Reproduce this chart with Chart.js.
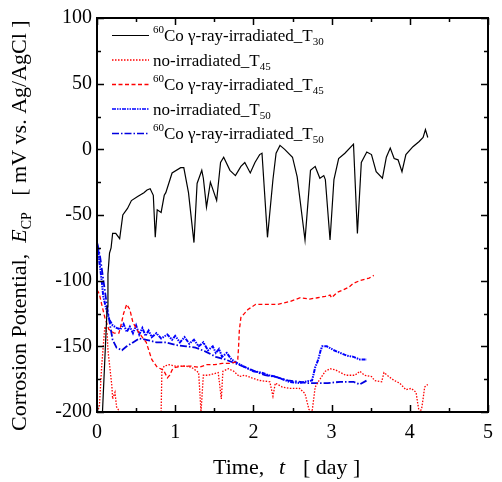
<!DOCTYPE html>
<html>
<head>
<meta charset="utf-8">
<script src="https://cdn.jsdelivr.net/npm/chart.js@4/dist/chart.umd.min.js"></script>
<style>
  html, body { margin: 0; padding: 0; background: #fff; }
  #wrap { width: 502px; height: 482px; }
</style>
</head>
<body>
<div id="wrap"><canvas id="ecpChart" width="502" height="482"></canvas></div>
<script>
'use strict';

// axis ticks
const xTicks = [0, 1, 2, 3, 4, 5];
const yTicks = [-200, -150, -100, -50, 0, 50, 100];

// 60Co irradiated, T30 (black solid)
const irrT30Days = [0.07,0.10,0.13,0.14,0.16,0.18,0.20,0.24,0.29,0.33,0.39,0.44,0.52,0.60,0.64,0.68,0.72,0.745,0.77,0.82,0.86,0.88,0.96,1.07,1.11,1.17,1.24,1.28,1.34,1.36,1.40,1.45,1.53,1.58,1.62,1.70,1.77,1.81,1.84,1.89,1.96,2.02,2.08,2.11,2.18,2.25,2.29,2.34,2.40,2.50,2.56,2.66,2.73,2.79,2.85,2.90,2.92,2.98,3.03,3.09,3.17,3.28,3.33,3.38,3.45,3.51,3.57,3.65,3.70,3.75,3.80,3.85,3.90,3.95,4.04,4.12,4.17,4.20,4.23];
const irrT30Mv = [-200,-160,-120,-95,-79,-75,-64,-64,-68,-50,-45,-39,-36,-33,-31,-30,-35,-67,-46,-48,-35,-33,-18,-14,-14,-33,-71,-26,-16,-22,-44,-25,-39,-10,-6,-16,-20,-16,-13,-10,-18,-10,-4,-3,-67,-23,-3,3,0,-6,-21,-69,-16,-13,-22,-20,-23,-69,-23,-7,-3,4,-64,-10,-2,-4,-17,-22,-6,1,-7,-8,-17,-4,2,6,9,15,9];

// no-irradiated, T45 (red dotted)
const noT45Days = [0.00,0.03,0.06,0.10,0.13,0.14,0.19,0.20,0.23,0.25,0.29,0.30,0.82,0.83,0.86,0.92,1.00,1.13,1.21,1.30,1.33,1.36,1.42,1.55,1.59,1.61,1.68,1.75,1.82,1.89,1.98,2.08,2.21,2.25,2.28,2.37,2.46,2.59,2.66,2.71,2.75,2.79,2.84,2.92,2.98,3.05,3.18,3.30,3.36,3.42,3.51,3.55,3.64,3.67,3.73,3.80,3.87,3.95,4.02,4.08,4.10,4.12,4.15,4.17,4.19,4.23];
const noT45Mv = [-200,-196,-165,-135,-140,-153,-180,-190,-185,-196,-200,null,-200,-168,-165,-164,-165,-165,-166,-170,-200,-172,-172,-170,-190,-169,-167,-169,-173,-172,-174,-176,-177,-188,-178,-181,-182,-182,-186,-198,-200,-181,-176,-169,-167,-168,-172,-172,-169,-172,-173,-176,-177,-170,-173,-176,-178,-183,-182,-185,-193,-200,-198,-190,-181,-179];

// 60Co irradiated, T45 (red dashed)
const irrT45Days = [0.00,0.03,0.06,0.10,0.15,0.22,0.28,0.31,0.34,0.38,0.42,0.46,0.54,0.63,0.70,0.77,0.85,0.90,0.93,0.96,1.00,1.10,1.20,1.30,1.40,1.50,1.60,1.70,1.77,1.80,1.81,1.82,1.84,1.93,2.03,2.15,2.31,2.46,2.60,2.72,2.82,2.92,2.98,3.00,3.07,3.15,3.22,3.28,3.36,3.42,3.48,3.54];
const irrT45Mv = [-107,-110,-118,-128,-137,-140,-140,-133,-125,-118,-122,-132,-140,-147,-160,-166,-168,-174,-172,-168,-166,-165,-165,-166,-164,-164,-163,-163,-162,-160,-151,-138,-128,-122,-118,-118,-118,-116,-113,-114,-113,-112,-111,-113,-109,-107,-105,-102,-100,-99,-98,-96];

// no-irradiated, T50 (blue dash-dot-dot)
const noT50Days = [0.00,0.01,0.03,0.06,0.08,0.12,0.16,0.20,0.25,0.30,0.34,0.38,0.42,0.46,0.50,0.54,0.58,0.62,0.66,0.70,0.76,0.82,0.90,0.96,1.00,1.06,1.12,1.18,1.24,1.30,1.36,1.42,1.48,1.52,1.56,1.60,1.66,1.72,1.80,1.90,2.00,2.10,2.20,2.28,2.46,2.59,2.66,2.75,2.79,2.83,2.86,2.88,2.94,3.03,3.11,3.19,3.28,3.36,3.45];
const noT50Mv = [-80,-75,-85,-100,-112,-122,-130,-134,-136,-137,-133,-139,-135,-140,-134,-141,-136,-142,-138,-143,-140,-144,-141,-145,-142,-147,-143,-148,-145,-150,-147,-153,-150,-155,-152,-158,-155,-160,-163,-166,-169,-170,-172,-173,-177,-178,-177,-176,-166,-160,-153,-150,-150,-153,-155,-157,-158,-160,-160];

// 60Co irradiated, T50 (blue dash-dot)
const irrT50Days = [0.00,0.02,0.04,0.08,0.13,0.17,0.20,0.25,0.32,0.38,0.46,0.54,0.63,0.76,0.88,1.01,1.14,1.26,1.39,1.52,1.64,1.77,1.90,2.02,2.15,2.27,2.44,2.60,2.69,2.80,2.95,3.11,3.28,3.36,3.45];
const irrT50Mv = [-90,-76,-82,-99,-120,-135,-145,-151,-153,-150,-147,-144,-145,-147,-147,-149,-150,-151,-154,-158,-160,-163,-166,-169,-172,-173,-176,-177,-178,-178,-178,-177,-177,-179,-176];

// legend labels: [superscript, main text, subscript]
const seriesLabels = [
    ['60', 'Co \u03b3-ray-irradiated_T', '30'],
    ['', 'no-irradiated_T', '45'],
    ['60', 'Co \u03b3-ray-irradiated_T', '45'],
    ['', 'no-irradiated_T', '50'],
    ['60', 'Co \u03b3-ray-irradiated_T', '50']
];

const SERIF = '"Liberation Serif", "Times New Roman", serif';

function toPoints(days, mv) {
    return days.map((d, i) => ({ x: d, y: mv[i] }));
}

function makeSet(label, days, mv, color, dash, width) {
    return {
        label: label,
        data: toPoints(days, mv),
        borderColor: color,
        borderDash: dash,
        borderWidth: width,
        pointRadius: 0,
        tension: 0,
        fill: false,
        spanGaps: false
    };
}

const datasets = [
    makeSet(seriesLabels[0].join(''), irrT30Days, irrT30Mv, '#000000', [], 1.2),
    makeSet(seriesLabels[1].join(''), noT45Days, noT45Mv, '#ff0000', [1.5, 1.5], 1.3),
    makeSet(seriesLabels[2].join(''), irrT45Days, irrT45Mv, '#ff0000', [4, 2.5], 1.3),
    makeSet(seriesLabels[3].join(''), noT50Days, noT50Mv, '#0000ff', [4, 1, 1.5, 1, 1.5, 1], 2),
    makeSet(seriesLabels[4].join(''), irrT50Days, irrT50Mv, '#0000e0', [7, 2, 1.5, 2], 1.8)
];

// frame, inward ticks, axis titles and legend
const decorPlugin = {
    id: 'decor',
    afterDraw(chart) {
        const ctx = chart.ctx;
        const area = chart.chartArea;
        const xs = chart.scales.x;
        const ys = chart.scales.y;
        ctx.save();
        ctx.strokeStyle = '#000';
        ctx.lineWidth = 2;
        ctx.strokeRect(area.left, area.top, area.right - area.left, area.bottom - area.top);

        ctx.lineWidth = 1.5;
        ctx.beginPath();
        for (let v = 0; v <= 5.001; v += 0.5) {
            const p = Math.round(xs.getPixelForValue(v)) + 0.5;
            const len = (Math.abs(v - Math.round(v)) < 0.01) ? 7 : 4;
            ctx.moveTo(p, area.bottom); ctx.lineTo(p, area.bottom - len);
            ctx.moveTo(p, area.top); ctx.lineTo(p, area.top + len);
        }
        for (let v = -200; v <= 100; v += 25) {
            const p = Math.round(ys.getPixelForValue(v)) + 0.5;
            const len = (v % 50 === 0) ? 7 : 4;
            ctx.moveTo(area.left, p); ctx.lineTo(area.left + len, p);
            ctx.moveTo(area.right, p); ctx.lineTo(area.right - len, p);
        }
        ctx.stroke();

        // x axis title
        ctx.fillStyle = '#000';
        ctx.textBaseline = 'alphabetic';
        ctx.textAlign = 'left';
        ctx.font = '22px ' + SERIF;
        ctx.fillText('Time,', 213, 474);
        ctx.font = 'italic 22px ' + SERIF;
        ctx.fillText('t', 279, 474);
        ctx.font = '22px ' + SERIF;
        ctx.fillText('[ day ]', 303, 474);

        // y axis title (rotated)
        ctx.save();
        ctx.translate(26, 431);
        ctx.rotate(-Math.PI / 2);
        let x = 0;
        ctx.font = '22px ' + SERIF;
        const part1 = 'Corrosion Potential,  ';
        ctx.fillText(part1, x, 0);
        x += ctx.measureText(part1).width;
        ctx.font = 'italic 22px ' + SERIF;
        ctx.fillText('E', x, 0);
        x += ctx.measureText('E').width;
        ctx.font = '14px ' + SERIF;
        ctx.fillText('CP', x, 5);
        x += ctx.measureText('CP').width;
        ctx.font = '22px ' + SERIF;
        ctx.fillText('   [ mV vs. Ag/AgCl ]', x, 0);
        ctx.restore();

        // legend
        chart.data.datasets.forEach((ds, i) => {
            const y = 35 + i * 24.5;
            ctx.save();
            ctx.strokeStyle = ds.borderColor;
            ctx.lineWidth = Math.min(ds.borderWidth, 1.3);
            ctx.setLineDash(ds.borderDash || []);
            ctx.beginPath();
            ctx.moveTo(112, y + 0.5);
            ctx.lineTo(149, y + 0.5);
            ctx.stroke();
            ctx.restore();

            const lab = seriesLabels[i];
            let tx = 153;
            const base = y + 6;
            if (lab[0]) {
                ctx.font = '11px ' + SERIF;
                ctx.fillText(lab[0], tx, base - 8);
                tx += ctx.measureText(lab[0]).width;
            }
            ctx.font = '17px ' + SERIF;
            ctx.fillText(lab[1], tx, base);
            tx += ctx.measureText(lab[1]).width;
            ctx.font = '11px ' + SERIF;
            ctx.fillText(lab[2], tx, base + 4);
        });
        ctx.restore();
    }
};

new Chart(document.getElementById('ecpChart'), {
    type: 'line',
    data: { datasets: datasets },
    options: {
        responsive: false,
        animation: false,
        devicePixelRatio: 1,
        layout: { padding: { left: 0, right: 9, top: 18, bottom: 0 } },
        plugins: {
            legend: { display: false },
            tooltip: { enabled: false },
            title: { display: false }
        },
        scales: {
            x: {
                type: 'linear',
                min: 0,
                max: 5,
                afterBuildTicks: (scale) => { scale.ticks = xTicks.map(v => ({ value: v })); },
                afterFit: (scale) => { scale.height = 70; },
                grid: { display: false, drawTicks: false },
                border: { display: false },
                ticks: { color: '#000', font: { family: SERIF, size: 20 }, padding: 9, maxRotation: 0, autoSkip: false }
            },
            y: {
                type: 'linear',
                min: -200,
                max: 100,
                afterBuildTicks: (scale) => { scale.ticks = yTicks.map(v => ({ value: v })); },
                afterFit: (scale) => { scale.width = 97; },
                grid: { display: false, drawTicks: false },
                border: { display: false },
                ticks: { color: '#000', font: { family: SERIF, size: 20 }, padding: 5, autoSkip: false }
            }
        }
    },
    plugins: [decorPlugin]
});
</script>
</body>
</html>
